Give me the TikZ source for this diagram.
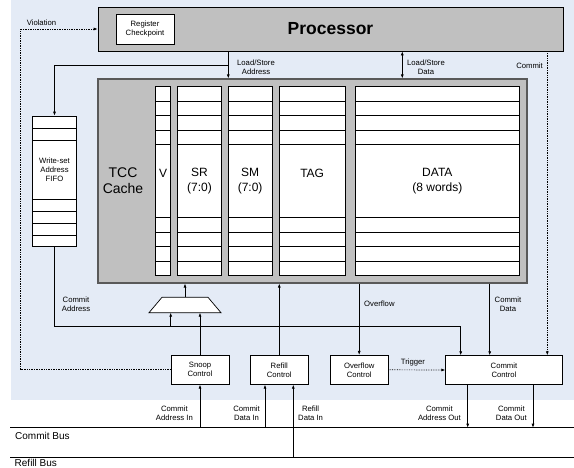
\documentclass[tikz,border=0pt]{standalone}
\usepackage{fontspec}
\setmainfont{Liberation Sans}
\usetikzlibrary{arrows.meta}

\definecolor{bgblue}{RGB}{228,235,246}
\definecolor{cachegray}{RGB}{192,192,192}

\newcommand\lblsize{\fontsize{7.7}{9}\selectfont}
\newcommand\cellsize{\fontsize{12}{15}\selectfont}
\newcommand\tccsize{\fontsize{14}{16}\selectfont}
\newcommand\bussize{\fontsize{10}{12}\selectfont}
\newcommand\procsize{\fontsize{17.5}{20}\selectfont\bfseries}

% one column of the TCC cache, #1 left, #2 right, #3 name of its centre
\newcommand\tcccol[3]{
  \draw [cellline, fill=white] (#1, 86.7) rectangle (#2, 275.7);
  \draw [cellline] (#1, 101.2) -- (#2, 101.2) (#1, 115.7) -- (#2, 115.7)
                   (#1, 130.2) -- (#2, 130.2) (#1, 144.7) -- (#2, 144.7)
                   (#1, 217.7) -- (#2, 217.7) (#1, 232.2) -- (#2, 232.2)
                   (#1, 246.7) -- (#2, 246.7) (#1, 261.2) -- (#2, 261.2);
  \coordinate (#3) at ({(#1+#2)/2}, 181.2);
}

\tikzset{
  box/.style = {draw, fill=white, line width=0.7pt, inner sep=0pt, align=center, font=\lblsize},
  lbl/.style = {font=\lblsize, align=center, inner sep=1pt},
  cellline/.style = {line width=0.7pt},
  arr/.style = {-{Latex[length=4pt, width=3pt]}, line width=0.7pt},
  dblarr/.style = {{Latex[length=4pt, width=3pt]}-{Latex[length=4pt, width=3pt]}, line width=0.7pt},
  dotarr/.style = {arr, densely dotted},
  bus/.style = {line width=1.5pt}
}

\begin{document}
\begin{tikzpicture}[x=1pt, y=-1pt]
     \useasboundingbox (0, 0) rectangle (574, 467);
     \fill [bgblue] (10.5, 0) rectangle (574, 400);

     % processor
     \node [box, fill=cachegray, font=\procsize, minimum width=465pt, minimum height=44pt] (proc) at (330.5, 29) {Processor};
     \node [box, minimum width=58pt, minimum height=30pt] (regcp) at (145, 29) {Register\\Checkpoint};

     % TCC cache
     \node [draw=black!65, fill=cachegray, line width=1.1pt, minimum width=429pt, minimum height=204pt] (cache) at (312.5, 181) {};
     \node [font=\tccsize, align=center] (tcc) at (123, 181) {TCC\\Cache};
     \tcccol{155.7}{170.7}{colv}
     \tcccol{177.7}{221.3}{colsr}
     \tcccol{228.3}{272}{colsm}
     \tcccol{279.3}{345}{coltag}
     \tcccol{355.7}{519}{coldata}
     \node [font=\cellsize, yshift=7.5pt] (vlbl) at (colv) {V};
     \node [font=\cellsize, align=center] (srlbl) at (colsr) {SR\\(7:0)};
     \node [font=\cellsize, align=center] (smlbl) at (colsm) {SM\\(7:0)};
     \node [font=\cellsize, yshift=7.5pt] (taglbl) at (coltag) {TAG};
     \node [font=\cellsize, align=center] (datalbl) at (coldata) {DATA\\(8 words)};

     % write-set fifo
     \node [box, minimum width=44.4pt, minimum height=130.7pt] (fifo) at (54.5, 181.35) {};
     \draw [cellline] (32.3, 128) -- (76.7, 128) (32.3, 140) -- (76.7, 140)
                      (32.3, 199.3) -- (76.7, 199.3) (32.3, 211.3) -- (76.7, 211.3)
                      (32.3, 223.3) -- (76.7, 223.3) (32.3, 235.3) -- (76.7, 235.3);
     \node [lbl] (fifotxt) at (54.5, 169.5) {Write-set\\Address\\FIFO};

     % mux and controllers
     \draw [fill=white, line width=0.7pt] (149, 312.7) -- (162, 297.3) coordinate (muxtl)
           -- (208, 297.3) -- (221, 312.7) -- cycle;
     \coordinate (muxout) at (185, 297.3);
     \coordinate (muxin) at (185, 312.7);
     \node [box, minimum width=58pt, minimum height=29pt] (snoop) at (200, 369.8) {Snoop\\Control};
     \node [box, minimum width=58pt, minimum height=29pt] (refill) at (279.3, 369.8) {Refill\\Control};
     \node [box, minimum width=58.3pt, minimum height=29pt] (overflow) at (359.2, 369.8) {Overflow\\Control};
     \node [box, minimum width=116.6pt, minimum height=28.6pt] (commitctl) at (504, 370) {Commit\\Control};

     % processor <-> cache
     \draw [arr] (proc.south -| 228.3, 0) -- (cache.north -| 228.3, 0);
     \draw [arr] (228.3, 65.7) -| (fifo.north);
     \draw [dblarr] (proc.south -| 402.3, 0) -- (cache.north -| 402.3, 0);
     \draw [dotarr] (proc.south -| 547.3, 0) -- (commitctl.north -| 547.3, 0);
     \draw [dotarr] (snoop.west) -| (20.7, 29) -- (proc.west);

     % commit path
     \draw [arr] (fifo.south) |- (460.7, 326) -- (commitctl.north -| 460.7, 0);
     \draw [arr] (170.7, 326) -- (muxin -| 170.7, 0);
     \draw [arr] (snoop.north) -- (muxin -| snoop.north);
     \draw [arr] (muxout) -- (cache.south -| muxout);
     \draw [arr] (refill.north) -- (cache.south -| refill.north);
     \draw [arr] (cache.south -| overflow.north) -- (overflow.north);
     \draw [arr] (cache.south -| 489.7, 0) -- (commitctl.north -| 489.7, 0);
     \draw [dotarr] (overflow.east) -- (commitctl.west);

     % buses
     \draw [bus] (10, 427.7) coordinate (cbus) -- (574, 427.7);
     \draw [bus] (10, 457.3) coordinate (rbus) -- (574, 457.3);
     \draw [arr] (snoop.south |- cbus) -- (snoop.south);
     \draw [arr] (265, 427.7) -- (refill.south -| 265, 0);
     \draw [arr] (293.3, 457.3) -- (refill.south -| 293.3, 0);
     \draw [arr] (commitctl.south -| 467.7, 0) -- (467.7, 427.7);
     \draw [arr] (commitctl.south -| 533, 0) -- (533, 427.7);

     % labels
     \node [lbl] (viollbl) at (41.5, 22.5) {Violation};
     \node [lbl] (lsalbl) at (256, 67) {Load/Store\\Address};
     \node [lbl] (lsdlbl) at (426, 67) {Load/Store\\Data};
     \node [lbl, anchor=east] (cmtlbl) at (544, 66) {Commit};
     \node [lbl] (calbl) at (76, 304.5) {Commit\\Address};
     \node [lbl, anchor=west] (ovflbl) at (363, 304) {Overflow};
     \node [lbl] (cdlbl) at (508, 304.5) {Commit\\Data};
     \node [lbl] (trglbl) at (413, 362.5) {Trigger};
     \node [lbl, anchor=east] (cailbl) at (194, 413) {Commit\\Address In};
     \node [lbl, anchor=east] (cdilbl) at (261, 413) {Commit\\Data In};
     \node [lbl, anchor=west] (rdilbl) at (297, 413) {Refill\\Data In};
     \node [lbl, anchor=east] (caolbl) at (462, 413) {Commit\\Address Out};
     \node [lbl, anchor=east] (cdolbl) at (528, 413) {Commit\\Data Out};
     \node [font=\bussize, anchor=west, inner sep=1pt] (cbuslbl) at (14, 436) {Commit Bus};
     \node [font=\bussize, anchor=west, inner sep=0.5pt] (rbuslbl) at (14, 462.6) {Refill Bus};
\end{tikzpicture}
\end{document}
